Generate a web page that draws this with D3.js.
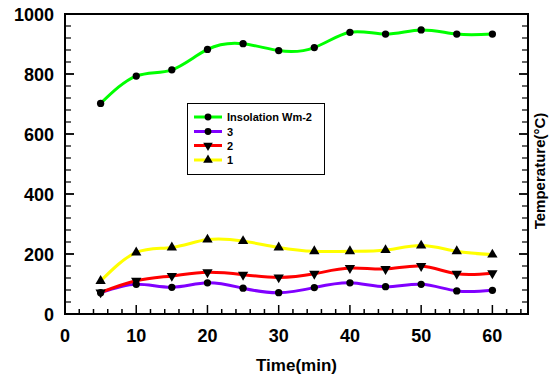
<!DOCTYPE html>
<meta charset="utf-8">
<style>
body {
  margin: 0;
  background: #fff;
  font-family: "Liberation Sans", Arial, sans-serif;
}
text {
  font-weight: bold;
  fill: #000;
}
</style>
<body>
<script src="https://cdn.jsdelivr.net/npm/d3@7"></script>
<script>

var width = 554,
    height = 379;

var margin = {top: 14, right: 26, bottom: 65, left: 65};

// readings, one per 5 minutes
var time = [5, 10, 15, 20, 25, 30, 35, 40, 45, 50, 55, 60];
var insolation = [702, 793, 814, 882, 901, 878, 888, 939, 933, 947, 933, 933];
var t3 = [71, 99, 89, 104, 86, 71, 88, 104, 91, 99, 77, 79];
var t2 = [72, 111, 127, 139, 131, 122, 134, 153, 150, 160, 134, 136];
var t1 = [110, 205, 222, 248, 243, 222, 209, 209, 213, 228, 209, 198];

var xTicks = [0, 10, 20, 30, 40, 50, 60];
var yTicks = [0, 200, 400, 600, 800, 1000];

var series = [
  {name: "Insolation Wm-2", values: insolation, color: "#00ff00", marker: "circle"},
  {name: "3", values: t3, color: "#8000ff", marker: "circle"},
  {name: "2", values: t2, color: "#ff0000", marker: "down"},
  {name: "1", values: t1, color: "#ffff00", marker: "up"}
];

var svg = d3.select("body").append("svg")
    .attr("width", width)
    .attr("height", height);

var x = d3.scaleLinear()
    .domain([0, 65])
    .range([margin.left, width - margin.right]);

var y = d3.scaleLinear()
    .domain([0, 1000])
    .range([height - margin.bottom, margin.top]);

var x0 = x.range()[0], x1 = x.range()[1],
    y0 = y.range()[0], y1 = y.range()[1];

// minor ticks
var xMinor = d3.range(0, 65.1, 2).filter(function(d) { return d % 10 != 0; });
var yMinor = d3.range(0, 1001, 40).filter(function(d) { return d % 200 != 0; });

var g = svg.append("g");

g.selectAll(".xminor")
    .data(xMinor)
  .enter().append("line")
    .attr("x1", function(d) { return x(d); })
    .attr("x2", function(d) { return x(d); })
    .attr("y1", y0)
    .attr("y2", y0 - 5)
    .attr("stroke", "#000")
    .attr("stroke-width", 1.5);

g.selectAll(".xmajor")
    .data(xTicks)
  .enter().append("line")
    .attr("x1", function(d) { return x(d); })
    .attr("x2", function(d) { return x(d); })
    .attr("y1", y0)
    .attr("y2", y0 - 9)
    .attr("stroke", "#000")
    .attr("stroke-width", 1.5);

[x0, x1].forEach(function(xx, i) {
  var dir = i == 0 ? 1 : -1;
  g.selectAll(".yminor" + i)
      .data(yMinor)
    .enter().append("line")
      .attr("x1", xx)
      .attr("x2", xx + dir * 6)
      .attr("y1", function(d) { return y(d); })
      .attr("y2", function(d) { return y(d); })
      .attr("stroke", "#000")
      .attr("stroke-width", 1.2);
  g.selectAll(".ymajor" + i)
      .data(yTicks)
    .enter().append("line")
      .attr("x1", xx)
      .attr("x2", xx + dir * 9)
      .attr("y1", function(d) { return y(d); })
      .attr("y2", function(d) { return y(d); })
      .attr("stroke", "#000")
      .attr("stroke-width", 1.8);
});

// frame
g.append("rect")
    .attr("x", x0)
    .attr("y", y1)
    .attr("width", x1 - x0)
    .attr("height", y0 - y1)
    .attr("fill", "none")
    .attr("stroke", "#000")
    .attr("stroke-width", 2);

// tick labels
g.selectAll(".xlab")
    .data(xTicks)
  .enter().append("text")
    .attr("x", function(d) { return x(d); })
    .attr("y", y0 + 28)
    .attr("text-anchor", "middle")
    .style("font-size", "18px")
    .text(function(d) { return d; });

g.selectAll(".ylab")
    .data(yTicks)
  .enter().append("text")
    .attr("x", x0 - 11)
    .attr("y", function(d) { return y(d) + 6.5; })
    .attr("text-anchor", "end")
    .style("font-size", "18px")
    .text(function(d) { return d; });

g.append("text")
    .attr("x", (x0 + x1) / 2)
    .attr("y", 371)
    .attr("text-anchor", "middle")
    .style("font-size", "17px")
    .text("Time(min)");

g.append("text")
    .attr("transform", "translate(544.5,171) rotate(-90)")
    .attr("text-anchor", "middle")
    .style("font-size", "15px")
    .text("Temperature(\u00b0C)");

// lines
var line = d3.line()
    .curve(d3.curveNatural)
    .x(function(d, i) { return x(time[i]); })
    .y(function(d) { return y(d); });

function marker(type, size) {
  if (type == "circle") return d3.symbol().type(d3.symbolCircle).size(size)();
  return d3.symbol().type(d3.symbolTriangle).size(size * 1.1)();
}

series.forEach(function(s) {
  g.append("path")
      .attr("d", line(s.values))
      .attr("fill", "none")
      .attr("stroke", s.color)
      .attr("stroke-width", 3);
});

series.forEach(function(s) {
  g.selectAll(".pt")
      .data(s.values)
    .enter().append("path")
      .attr("d", marker(s.marker, 42))
      .attr("transform", function(d, i) {
        return "translate(" + x(time[i]) + "," + y(d) + ")" + (s.marker == "down" ? " rotate(180)" : "");
      })
      .attr("fill", "#000");
});

// legend
var legend = g.append("g");

legend.append("rect")
    .attr("x", 187.5)
    .attr("y", 103.5)
    .attr("width", 137)
    .attr("height", 71)
    .attr("fill", "#fff")
    .attr("stroke", "#000")
    .attr("stroke-width", 1);

var rowY = [117, 131.5, 145.5, 160];

series.forEach(function(s, i) {
  var ry = rowY[i];
  legend.append("line")
      .attr("x1", 194)
      .attr("x2", 222)
      .attr("y1", ry)
      .attr("y2", ry)
      .attr("stroke", s.color)
      .attr("stroke-width", 3);
  legend.append("path")
      .attr("d", marker(s.marker, 36))
      .attr("transform", "translate(208," + ry + ")" + (s.marker == "down" ? " rotate(180)" : ""))
      .attr("fill", "#000");
  legend.append("text")
      .attr("x", 227)
      .attr("y", ry + 4)
      .style("font-size", "11px")
      .text(s.name);
});

</script>
